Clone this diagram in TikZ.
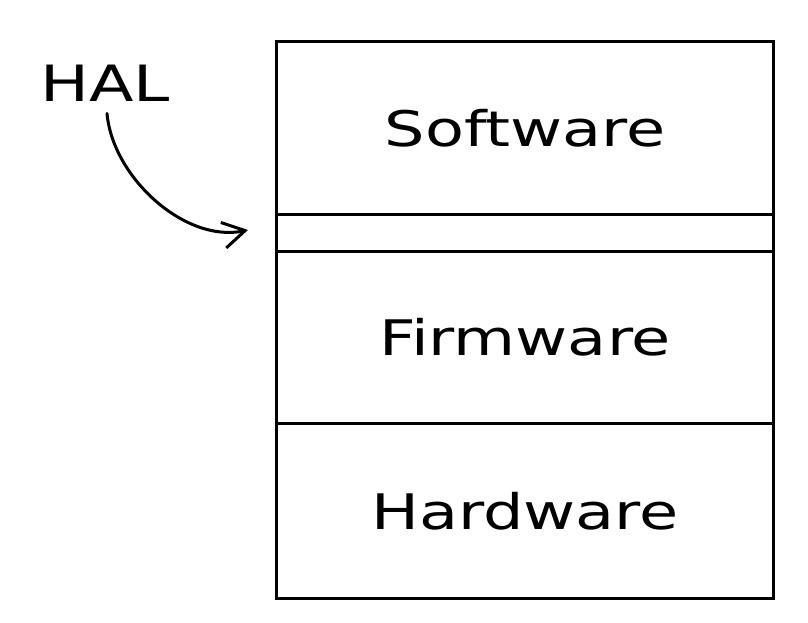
\documentclass[tikz,border=0pt]{standalone}
\usepackage{fontspec}
\setmainfont{DejaVu Sans}
\usetikzlibrary{arrows.meta}
\newcommand{\handtext}[1]{\scalebox{1.3}[1]{#1}}
\tikzset{
  layer/.style={draw=black, line width=3pt, minimum width=497pt, inner sep=0pt, anchor=north west,
    font=\fontsize{49}{56}\selectfont},
  lbl/.style={font=\fontsize{50}{56}\selectfont, inner sep=0pt},
  hand/.style={line width=3pt, line cap=round, -{Straight Barb[length=22pt,width=26pt,line width=3pt]}}
}
\begin{document}
\begin{tikzpicture}[x=1pt,y=-1pt]
\useasboundingbox (0,0) rectangle (808,622);
\node[layer, minimum height=173pt] (soft) at (275,40) {\handtext{Software}};
\node[layer, minimum height=37pt] (hl) at (275,213) {};
\node[layer, minimum height=172pt] (firm) at (275,250) {\handtext{Firmware}};
\node[layer, minimum height=175pt] (hard) at (275,422) {\handtext{Hardware}};
\node[lbl] (hal) at (105,83) {\handtext{HAL}};
\draw[hand] ([shift={(2pt,-12pt)}]hal.south) to[out=-85,in=192,looseness=0.9] ([shift={(-27pt,3pt)}]hl.west);
\end{tikzpicture}
\end{document}
